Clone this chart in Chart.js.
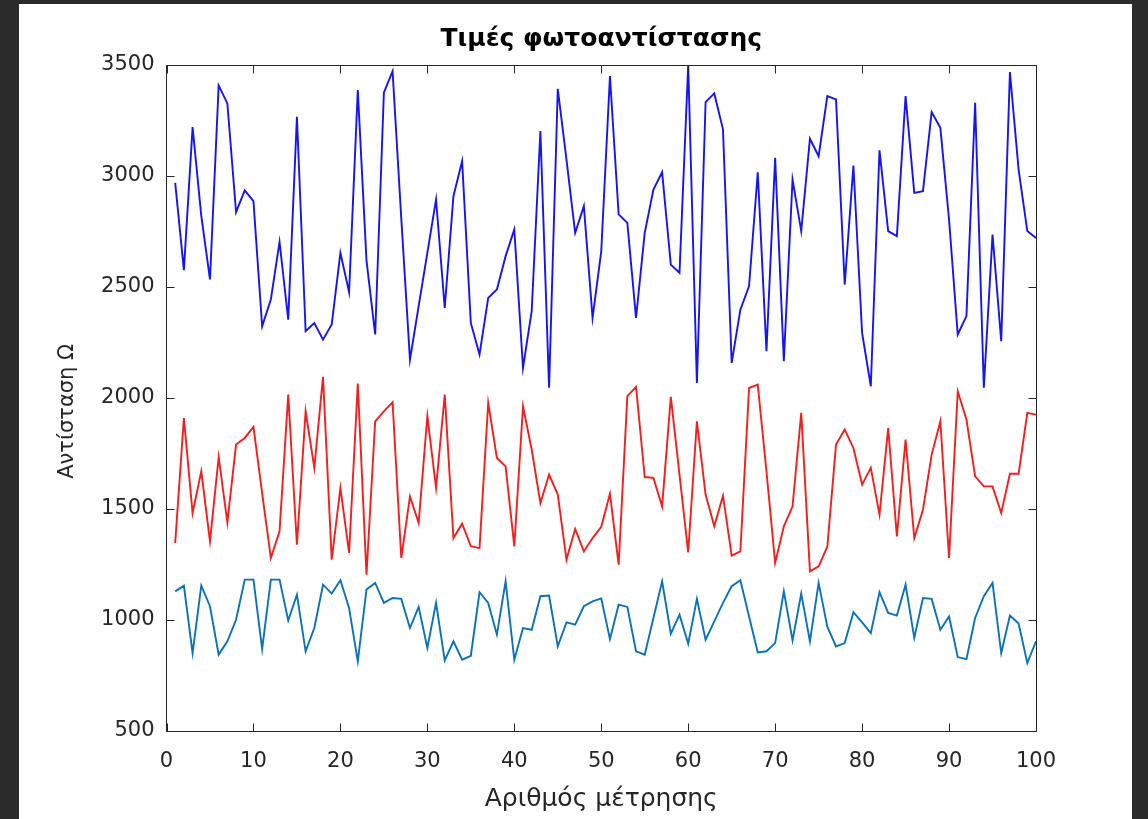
<!DOCTYPE html>
<html>
<head>
<meta charset="utf-8">
<title>Τιμές φωτοαντίστασης</title>
<script src="https://cdn.jsdelivr.net/npm/chart.js@4"></script>
<style>
  html, body { margin: 0; padding: 0; background: #2b2b2b; overflow: hidden; }
  #frame { position: absolute; left: 19px; top: 4px; width: 1113px; height: 815px; background: #fff; }
</style>
</head>
<body>
<div id="frame"><canvas id="myChart" width="1113" height="815"></canvas></div>
<script>
// αριθμός μέτρησης 1..100
const measurement = Array.from({ length: 100 }, (_, i) => i + 1);

// τρεις σειρές μετρήσεων φωτοαντίστασης (Ω)
const sensorHigh = [
  2969, 2576, 3220, 2820, 2534, 3408, 3327, 2837, 2935, 2887,
  2323, 2444, 2703, 2353, 3267, 2301, 2338, 2263, 2331, 2654,
  2477, 3387, 2620, 2286, 3375, 3472, 2810, 2173, 2414, 2654,
  2894, 2406, 2909, 3067, 2338, 2196, 2451, 2489, 2639, 2759,
  2136, 2391, 3202, 2046, 3393, 3074, 2744, 2864, 2361, 2660,
  3450, 2827, 2789, 2361, 2744, 2939, 3017, 2601, 2564, 3500,
  2068, 3333, 3372, 3210, 2158, 2398, 2504, 3017, 2211, 3082,
  2166, 2984, 2752, 3168, 3089, 3360, 3345, 2511, 3047, 2293,
  2053, 3116, 2752, 2729, 3360, 2924, 2932, 3288, 3217, 2804,
  2286, 2369, 3330, 2046, 2736, 2256, 3468, 3029, 2752, 2721
];
const sensorMid = [
  1347, 1910, 1482, 1670, 1354, 1734, 1440, 1790, 1820, 1870,
  1572, 1279, 1400, 2015, 1339, 1940, 1685, 2095, 1272, 1595,
  1302, 2065, 1204, 1895, 1940, 1981, 1279, 1557, 1437, 1918,
  1595, 2015, 1369, 1434, 1332, 1324, 1978, 1730, 1692, 1332,
  1963, 1768, 1527, 1655, 1565, 1272, 1410, 1309, 1369, 1420,
  1569, 1249, 2008, 2050, 1644, 1640, 1512, 2005, 1655, 1305,
  1895, 1565, 1422, 1560, 1290, 1309, 2045, 2060, 1670, 1257,
  1422, 1512, 1933, 1219, 1242, 1330, 1790, 1858, 1775, 1610,
  1685, 1475, 1865, 1377, 1813, 1369, 1497, 1745, 1895, 1279,
  2030, 1903, 1647, 1602, 1602, 1482, 1659, 1659, 1933, 1925
];
const sensorLow = [
  1129, 1155, 851, 1155, 1062, 844, 904, 1001, 1182, 1182,
  869, 1182, 1182, 998, 1114, 859, 964, 1159, 1119, 1179,
  1054, 814, 1137, 1167, 1077, 1099, 1095, 964, 1059, 874,
  1077, 818, 904, 821, 839, 1125, 1077, 934, 1174, 821,
  964, 956, 1107, 1110, 881, 989, 979, 1062, 1084, 1097,
  914, 1069, 1059, 859, 844, 1009, 1174, 938, 1024, 893,
  1095, 911, 994, 1077, 1152, 1179, 1016, 854, 859, 896,
  1129, 908, 1119, 904, 1167, 970, 881, 896, 1035, 989,
  941, 1125, 1032, 1020, 1159, 919, 1099, 1095, 956, 1016,
  833, 824, 1009, 1107, 1167, 851, 1020, 984, 806, 904
];

const xTicks = [0, 10, 20, 30, 40, 50, 60, 70, 80, 90, 100];
const yTicks = [500, 1000, 1500, 2000, 2500, 3000, 3500];

const axisColor = '#262626';

// κουτί αξόνων με γραμμές υποδιαίρεσης προς τα μέσα
const axesBox = {
  id: 'axesBox',
  afterDraw(chart) {
    const { ctx, chartArea: a, scales: { x, y } } = chart;
    const len = 8;
    const L = Math.floor(a.left) + 0.5;
    const R = Math.floor(a.right) + 0.5;
    const T = Math.floor(a.top) + 0.5;
    const B = Math.floor(a.bottom) + 0.5;
    ctx.save();
    ctx.strokeStyle = axisColor;
    ctx.lineWidth = 1;
    ctx.beginPath();
    ctx.rect(L, T, R - L, B - T);
    xTicks.forEach(v => {
      const px = Math.round(x.getPixelForValue(v)) + 0.5;
      ctx.moveTo(px, B); ctx.lineTo(px, B - len);
      ctx.moveTo(px, T); ctx.lineTo(px, T + len);
    });
    yTicks.forEach(v => {
      const py = Math.round(y.getPixelForValue(v)) + 0.5;
      ctx.moveTo(L, py); ctx.lineTo(L + len, py);
      ctx.moveTo(R, py); ctx.lineTo(R - len, py);
    });
    ctx.stroke();
    ctx.restore();
  }
};

const ctx = document.querySelector('#myChart');

new Chart(ctx, {
  type: 'line',
  data: {
    labels: measurement,
    datasets: [
      { data: sensorHigh, borderColor: '#1414f5', borderWidth: 1.9 },
      { data: sensorMid, borderColor: '#f51e1e', borderWidth: 1.9 },
      { data: sensorLow, borderColor: '#0a72bd', borderWidth: 1.9 }
    ]
  },
  options: {
    responsive: false,
    animation: false,
    layout: { padding: { left: 0, right: 96, top: 0, bottom: 0 } },
    elements: {
      point: { radius: 0 },
      line: { tension: 0 }
    },
    plugins: {
      legend: { display: false },
      tooltip: { enabled: false },
      title: {
        display: true,
        text: 'Τιμές φωτοαντίστασης',
        fullSize: false,
        color: '#000',
        font: { family: 'DejaVu Sans', size: 25, weight: 'bold' },
        padding: { top: 20, bottom: 11 }
      }
    },
    scales: {
      x: {
        type: 'linear',
        min: 0,
        max: 100,
        grid: { display: false, drawTicks: false },
        border: { display: false },
        afterFit: scale => { scale.height = 88; },
        afterBuildTicks: scale => { scale.ticks = xTicks.map(v => ({ value: v })); },
        ticks: {
          color: axisColor,
          padding: 18,
          maxRotation: 0,
          callback: v => String(v),
          font: { family: 'DejaVu Sans', size: 21 }
        },
        title: {
          display: true,
          text: 'Αριθμός μέτρησης',
          color: axisColor,
          font: { family: 'DejaVu Sans', size: 25 },
          padding: { top: 0, bottom: 5 }
        }
      },
      y: {
        min: 500,
        max: 3500,
        grid: { display: false, drawTicks: false },
        border: { display: false },
        afterFit: scale => { scale.width = 147.5; },
        afterBuildTicks: scale => { scale.ticks = yTicks.map(v => ({ value: v })); },
        ticks: {
          color: axisColor,
          padding: 12,
          callback: v => String(v),
          font: { family: 'DejaVu Sans', size: 21 }
        },
        title: {
          display: true,
          // κενά στο τέλος: ο τίτλος κατεβαίνει λίγο πιο χαμηλά
          text: 'Αντίσταση Ω\u00a0\u00a0\u00a0\u00a0',
          color: axisColor,
          font: { family: 'DejaVu Sans', size: 21 },
          padding: { top: 36, bottom: 0 }
        }
      }
    }
  },
  plugins: [axesBox]
});
</script>
</body>
</html>
